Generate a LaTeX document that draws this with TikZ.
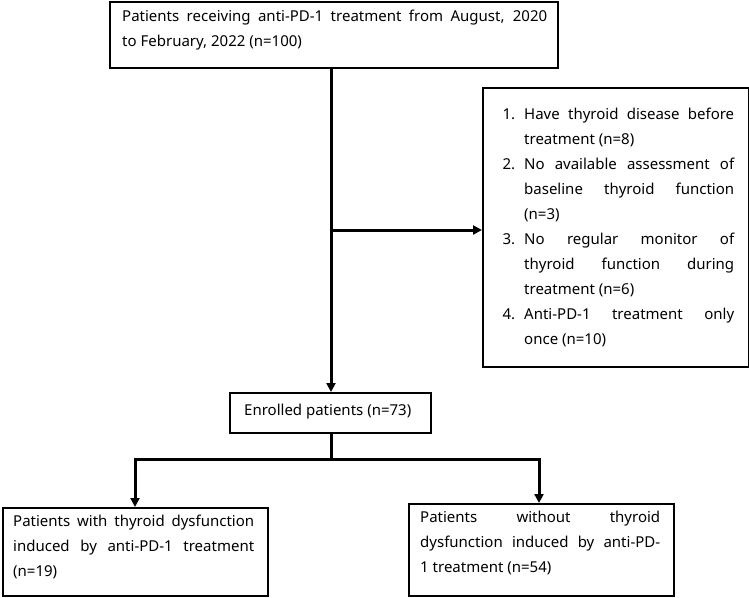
\documentclass[tikz,border=0pt]{standalone}
\usepackage{fontspec}
\setmainfont{Noto Sans}
\usetikzlibrary{positioning,arrows.meta}
\newcommand{\txt}{\fontsize{15}{25}\selectfont\hyphenpenalty=10000\sloppy}
\tikzset{
  box/.style = {draw, line width=2pt, inner sep=0pt, anchor=north west},
  txtbox/.style = {anchor=north west, inner sep=0pt, align=justify, font=\txt},
  flow/.style = {line width=3pt},
  arr/.style = {flow, -{Triangle[length=9pt,width=9pt]}},
}
\begin{document}
\begin{tikzpicture}[x=1pt,y=-1pt]
\useasboundingbox (0,0) rectangle (749,597);
% boxes
\node[box, minimum width=448pt, minimum height=66pt] (start) at (109,1) {};
\node[txtbox, text width=425pt] at (122,10) {Patients receiving anti-PD-1 treatment from August, 2020\linebreak to February, 2022 (n=100)\par};
\node[box, minimum width=266pt, minimum height=279pt] (excl) at (482,87) {};
\node[txtbox, text width=239pt] at (495,94) {%
  \begin{list}{\arabic{enumi}.}{\usecounter{enumi}\leftmargin=29pt\labelwidth=20pt\labelsep=9pt\itemsep=0pt\parsep=0pt\topsep=0pt}
  \item Have thyroid disease before\linebreak treatment (n=8)
  \item No available assessment of\linebreak baseline thyroid function\linebreak (n=3)
  \item No regular monitor of\linebreak thyroid function during\linebreak treatment (n=6)
  \item Anti-PD-1 treatment only\linebreak once (n=10)
  \end{list}};
\node[box, minimum width=201pt, minimum height=40pt] (enr) at (229,392) {};
\node[anchor=west, inner sep=0pt, font=\txt] at (244,412) {Enrolled patients (n=73)};
\node[box, minimum width=265pt, minimum height=88pt] (left) at (2,507) {};
\node[txtbox, text width=241pt] at (13,515) {Patients with thyroid dysfunction\linebreak induced by anti-PD-1 treatment\linebreak (n=19)\par};
\node[box, minimum width=265pt, minimum height=92pt] (right) at (408,503) {};
\node[txtbox, text width=240pt] at (420,511) {Patients without thyroid\linebreak dysfunction induced by anti-PD-\linebreak 1 treatment (n=54)\par};
% connectors
\coordinate (mid) at (331,230);
\coordinate (split) at (331,459);
\draw[arr] (start.south -| mid) -- (enr.north -| mid);
\draw[arr] (mid) -- (excl.west |- mid);
\draw[flow] (enr.south -| split) -- (split);
\draw[flow] (135,459) -- (539,459);
\draw[arr] (135,458) -- (left.north -| 135,0);
\draw[arr] (539,458) -- (right.north -| 539,0);
\end{tikzpicture}
\end{document}
